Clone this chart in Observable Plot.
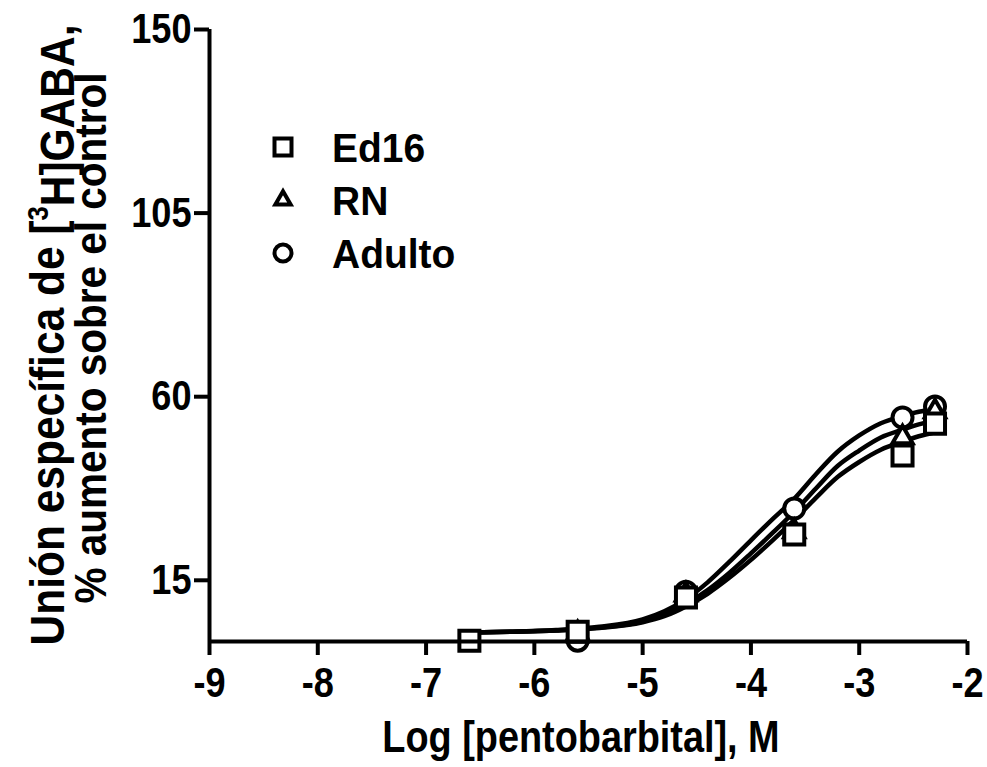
<!DOCTYPE html>
<html><head><meta charset="utf-8">
<script src="https://cdn.jsdelivr.net/npm/d3@7"></script>
<script src="https://cdn.jsdelivr.net/npm/@observablehq/plot@0.6"></script>
<style>body{margin:0;background:#fff} svg{display:block}</style>
</head><body><div id="chart"></div>
<script>
// ---- data ----
const xTicks = [-9, -8, -7, -6, -5, -4, -3, -2];
const yTicks = [15, 60, 105, 150];
const seriesNames = ["Ed16", "RN", "Adulto"];
const seriesSymbols = ["square", "triangle", "circle"];

// measured points
const ed16X = [-6.6, -5.6, -4.6, -3.6, -2.6, -2.3];
const ed16Y = [0.2, 2.4, 10.8, 26.2, 45.6, 53.4];
const rnX = [-5.6, -4.6, -3.6, -2.6, -2.3];
const rnY = [2.0, 11.5, 27.0, 50.0, 56.4];
const adultoX = [-5.6, -4.6, -3.6, -2.6, -2.3];
const adultoY = [0.2, 12.2, 32.6, 54.9, 57.6];

// fitted curves
const fitX      = [-6.6, -6.2, -5.8, -5.4, -5.0, -4.8, -4.6, -4.4, -4.2, -4.0, -3.8, -3.6, -3.4, -3.2, -3.0, -2.8, -2.6, -2.45, -2.3];
const fitAdulto = [2.2, 2.4, 2.8, 3.6, 5.4, 7.4, 10.4, 14.5, 19.5, 24.8, 30.0, 35.0, 41.0, 46.5, 50.5, 53.5, 55.3, 56.3, 57.0];
const fitRN     = [2.2, 2.4, 2.7, 3.4, 4.9, 6.6, 9.2, 12.6, 16.8, 21.6, 26.6, 31.8, 37.5, 43.0, 46.8, 50.0, 51.9, 53.2, 54.2];
const fitEd16   = [2.2, 2.4, 2.7, 3.3, 4.7, 6.2, 8.6, 11.7, 15.6, 20.0, 24.8, 29.8, 35.2, 40.3, 44.0, 47.0, 49.0, 50.3, 51.3];

// ---- tables built from the arrays ----
const pts = (xs, ys, s) => xs.map((x, i) => ({x, y: ys[i], s}));
const ed16Pts = pts(ed16X, ed16Y, "Ed16");
const rnPts = pts(rnX, rnY, "RN");
const adultoPts = pts(adultoX, adultoY, "Adulto");
const fitAd = pts(fitX, fitAdulto, "Adulto");
const fitR = pts(fitX, fitRN, "RN");
const fitE = pts(fitX, fitEd16, "Ed16");

const FONT = "'Liberation Sans', Arial, Helvetica, sans-serif";
const W = 987, H = 767;
const TICK_FONT = 43;

const chart = Plot.plot({
  width: W, height: H,
  marginLeft: 209, marginRight: 20, marginTop: 29, marginBottom: 126,
  style: {fontFamily: FONT, background: "white", color: "black", overflow: "visible"},
  x: {domain: [-9, -2]},
  y: {domain: [0, 150]},
  marks: [
    Plot.line(fitE, {x: "x", y: "y", stroke: "black", strokeWidth: 4.5, curve: "monotone-x"}),
    Plot.line(fitR, {x: "x", y: "y", stroke: "black", strokeWidth: 4.5, curve: "monotone-x"}),
    Plot.line(fitAd, {x: "x", y: "y", stroke: "black", strokeWidth: 4.5, curve: "monotone-x"}),
    Plot.dot(adultoPts, {x: "x", y: "y", symbol: "circle", r: 10, fill: "white", stroke: "black", strokeWidth: 4}),
    Plot.dot(rnPts, {x: "x", y: "y", symbol: "triangle", r: 7.5, fill: "white", stroke: "black", strokeWidth: 4}),
    Plot.dot(ed16Pts, {x: "x", y: "y", symbol: "square", r: 11.3, fill: "white", stroke: "black", strokeWidth: 4}),
    Plot.ruleY([0], {x1: -9, x2: -2, stroke: "black", strokeWidth: 4}),
    Plot.ruleX([-9], {y1: 0, y2: 150, stroke: "black", strokeWidth: 4}),
    Plot.axisX({ticks: xTicks, tickSize: 14, strokeWidth: 4, tickPadding: 11, fontSize: TICK_FONT, fontWeight: "bold", label: null, tickFormat: d => d < 0 ? "-" + Math.abs(d) : String(d)}),
    Plot.axisY({ticks: yTicks, tickSize: 15, strokeWidth: 4, tickPadding: 3, fontSize: TICK_FONT, fontWeight: "bold", label: null})
  ]
});

const svg = d3.select(chart);
svg.attr("font-family", FONT);

// x-axis title
const xt = svg.append("text")
  .attr("x", 581).attr("y", 752)
  .attr("text-anchor", "middle")
  .attr("font-size", 44).attr("font-weight", "bold").attr("fill", "black")
  .text("Log [pentobarbital], M");

// y-axis title (two lines)
const t1 = svg.append("text")
  .attr("transform", "translate(64,335) rotate(-90)")
  .attr("text-anchor", "middle")
  .attr("font-size", 48).attr("font-weight", "bold").attr("fill", "black");
t1.append("tspan").text("Unión específica de [");
t1.append("tspan").attr("dy", "-0.55em").attr("font-size", 29).text("3");
t1.append("tspan").attr("dy", "0.55em").text("H]GABA,");

const t2 = svg.append("text")
  .attr("transform", "translate(106,338) rotate(-90)")
  .attr("text-anchor", "middle")
  .attr("font-size", 45).attr("font-weight", "bold").attr("fill", "black")
  .text("% aumento sobre el control");

// legend
const legY = [147, 200, 253];
const symSize = [17, 13, 17];
const legTexts = [];
seriesNames.forEach((name, i) => {
  const sym = {square: d3.symbolSquare, triangle: d3.symbolTriangle, circle: d3.symbolCircle}[seriesSymbols[i]];
  const side = symSize[i];
  svg.append("path")
    .attr("transform", `translate(283,${legY[i]})`)
    .attr("d", d3.symbol(sym, i === 0 ? side * side : i === 1 ? side * side * 0.6 : Math.PI * (side / 2) ** 2)())
    .attr("fill", "white").attr("stroke", "black").attr("stroke-width", 4);
  legTexts.push(svg.append("text")
    .attr("x", 332).attr("y", legY[i] + 15)
    .attr("text-anchor", "start")
    .attr("font-size", 41).attr("font-weight", "bold").attr("fill", "black")
    .text(name));
});

document.getElementById("chart").appendChild(chart);

// the original lettering is a narrow bold sans: condense glyphs horizontally
function condense(sel, k) {
  sel.each(function () {
    const len = this.getComputedTextLength();
    if (len > 0) {
      this.setAttribute("textLength", (len * k).toFixed(1));
      this.setAttribute("lengthAdjust", "spacingAndGlyphs");
    }
  });
}
condense(svg.selectAll('g[aria-label="x-axis tick label"] text, g[aria-label="y-axis tick label"] text'), 0.84);
condense(xt, 0.86);
condense(t1, 0.885);
condense(t2, 0.9);
legTexts.forEach(t => condense(t, 0.95));
</script>
</body></html>
